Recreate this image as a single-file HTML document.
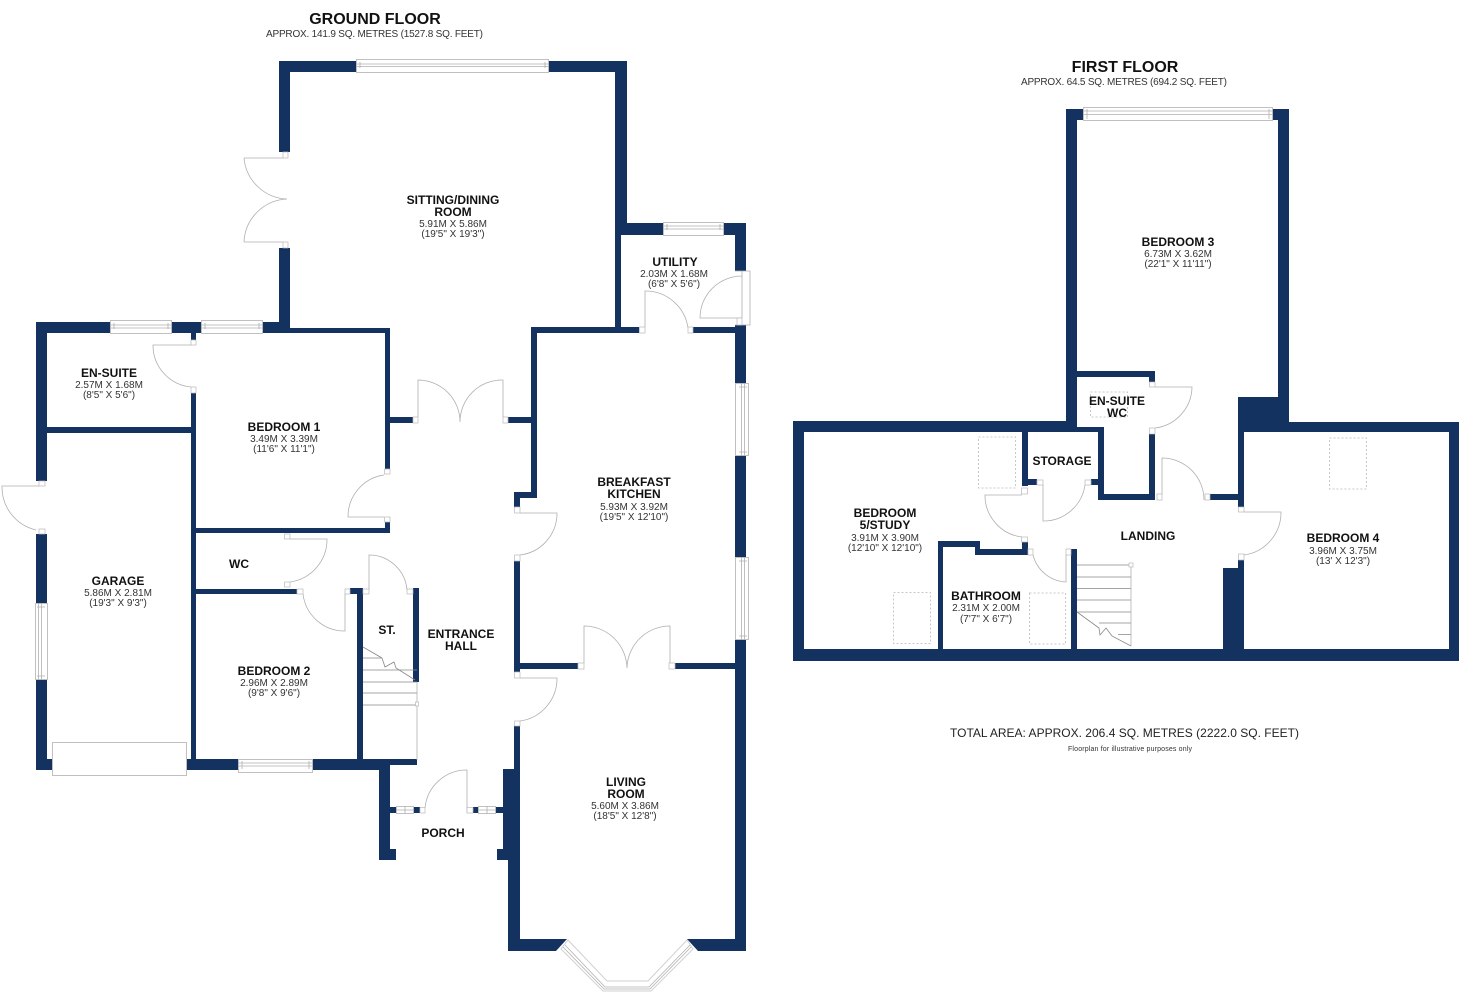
<!DOCTYPE html>
<html><head><meta charset="utf-8"><title>Floorplan</title>
<style>
html,body{margin:0;padding:0;background:#fff}
svg{display:block}
text{font-family:"Liberation Sans",sans-serif;text-anchor:middle}
.b{font-weight:bold;font-size:12px;fill:#111}
.d{font-size:10px;fill:#333}
.w{fill:#14325f}
.l{fill:none;stroke:#b0b0b0;stroke-width:.8}
.g{fill:#fff;stroke:#c0c0c0;stroke-width:1}
.s{fill:#fff;stroke:#b8b8b8;stroke-width:.7}
.k{fill:none;stroke:#c8c8c8;stroke-width:1;stroke-dasharray:2 2}
.t{fill:none;stroke:#888;stroke-width:.8}
</style></head><body>
<svg width="1473" height="999" viewBox="0 0 1473 999" xmlns="http://www.w3.org/2000/svg">
<rect width="1473" height="999" fill="#fff"/>

<!-- GROUND FLOOR walls -->
<g class="w">
<rect x="279" y="61" width="77" height="11"/><rect x="549" y="61" width="78" height="11"/>
<rect x="279" y="61" width="11" height="91"/><rect x="279" y="248" width="11" height="80"/>
<rect x="615" y="61" width="12" height="174"/>
<rect x="615" y="235" width="6" height="98"/>
<rect x="615" y="223" width="48" height="12"/><rect x="724" y="223" width="22" height="12"/>
<rect x="735" y="223" width="11" height="48"/><rect x="735" y="325" width="11" height="58"/>
<rect x="735" y="456" width="11" height="101"/><rect x="735" y="640" width="11" height="311"/>
<rect x="531" y="327" width="108" height="6"/><rect x="693" y="327" width="42" height="6"/>
<rect x="531" y="327" width="6" height="171"/><rect x="514" y="492" width="23" height="6"/>
<rect x="514" y="492" width="6" height="15"/>
<rect x="514" y="561" width="6" height="111"/><rect x="514" y="726" width="6" height="225"/>
<rect x="514" y="663" width="64" height="6"/><rect x="675" y="663" width="60" height="6"/>
<polygon points="508,939 567,939 556,951 508,951"/><polygon points="687,939 746,939 746,951 698,951"/>
<rect x="508" y="850" width="6" height="101"/>
<rect x="503" y="769" width="11" height="80"/><rect x="497" y="849" width="17" height="11"/>
<rect x="379" y="770" width="11" height="90"/><rect x="379" y="849" width="17" height="11"/>
<rect x="390" y="807" width="6" height="6"/><rect x="414" y="807" width="6" height="6"/>
<rect x="473" y="807" width="5" height="6"/><rect x="496" y="807" width="7" height="6"/>
<rect x="36" y="322" width="74" height="11"/><rect x="172" y="322" width="29" height="11"/><rect x="263" y="322" width="27" height="11"/>
<rect x="290" y="328" width="100" height="5"/>
<rect x="385" y="328" width="5" height="141"/>
<rect x="390" y="417" width="23" height="6"/><rect x="508" y="417" width="23" height="6"/>
<rect x="191" y="333" width="5" height="7"/>
<rect x="36" y="322" width="11" height="159"/><rect x="36" y="534" width="11" height="69"/><rect x="36" y="680" width="11" height="90"/>
<rect x="47" y="427" width="144" height="6"/>
<rect x="191" y="393" width="5" height="377"/>
<rect x="191" y="528" width="199" height="5"/><rect x="385" y="522" width="5" height="11"/>
<rect x="191" y="589" width="106" height="5"/>
<rect x="357" y="588" width="6" height="172"/><rect x="350" y="588" width="13" height="6"/>
<rect x="413" y="588" width="6" height="94"/>
<rect x="36" y="759" width="17" height="11"/><rect x="186" y="759" width="52" height="11"/><rect x="313" y="759" width="77" height="11"/>
<rect x="363" y="759" width="54" height="6"/>
</g>

<!-- ground windows -->
<g>
<rect class="g" x="356.500" y="59.500" width="192" height="13"/><path class="l" d="M356 64H549M356 66.500H549M360 62V68M545 62V68"/>
<rect class="g" x="663.500" y="222.500" width="60" height="13"/><path class="l" d="M663 226H724M663 229H724M667 224V230M720 224V230"/>
<rect class="g" x="110.500" y="320.500" width="61" height="13"/><path class="l" d="M110 325H172M110 328H172M114 323V329M168 323V329"/>
<rect class="g" x="201.500" y="320.500" width="61" height="13"/><path class="l" d="M201 325H263M201 328H263M205 323V329M259 323V329"/>
<rect class="g" x="735.500" y="383.500" width="13" height="72"/><path class="l" d="M741.500 383V456M744.500 383V456M739 387H747M739 452H747"/>
<rect class="g" x="735.500" y="557.500" width="13" height="82"/><path class="l" d="M741.500 557V640M744.500 557V640M739 561H747M739 636H747"/>
<rect class="g" x="35.500" y="603.500" width="12" height="76"/><path class="l" d="M38.500 603V680M41.500 603V680M37 607H45M37 676H45"/>
<rect class="g" x="52.500" y="742.500" width="134" height="33"/>
<rect class="g" x="238.500" y="759.500" width="74" height="13"/><path class="l" d="M238 763H313M238 766H313M242 761V769M309 761V769"/>
<rect class="g" x="396.500" y="806.500" width="17" height="7"/><path class="l" d="M405 806V814M396 810H414"/>
<rect class="g" x="478.500" y="806.500" width="17" height="7"/><path class="l" d="M487 806V814M478 810H496"/>
<!-- bay -->
<polygon points="561,949 603,991 651,991 693,949 687,940 648,981 607,981 568,940" fill="#fff" stroke="#d0d0d0" stroke-width="1"/>
<path class="l" d="M565 945L605 987H649L690 945M563 947L604 989H650L691 947"/>
</g>

<!-- ground doors -->
<g>
<path class="l" d="M244 158H283M244 158A45 45 0 0 0 287 199M244 242H283M244 242A45 45 0 0 1 287 199"/>
<rect class="s" x="283" y="152" width="5" height="6"/><rect class="s" x="283" y="242" width="5" height="6"/>
<path class="l" d="M418 417V380A42 42 0 0 1 460 422M503 417V380A42 42 0 0 0 460 422"/>
<rect class="s" x="413" y="417" width="5" height="6"/><rect class="s" x="503" y="417" width="5" height="6"/>
<rect class="s" x="384.500" y="469" width="5.500" height="5"/><rect class="s" x="384.500" y="517" width="5.500" height="5"/>
<path class="l" d="M384 517H348A42 42 0 0 1 384 475"/>
<rect class="s" x="514.500" y="507" width="5.500" height="6"/><rect class="s" x="514.500" y="555" width="5.500" height="6"/>
<path class="l" d="M520 513H557A42 42 0 0 1 520 555"/>
<path class="l" d="M584 663V626A43 43 0 0 1 627 668M670 663V626A43 43 0 0 0 627 668"/>
<rect class="s" x="578" y="663" width="6" height="6"/><rect class="s" x="669" y="663" width="6" height="6"/>
<rect class="s" x="514.500" y="672" width="5.500" height="6"/><rect class="s" x="514.500" y="721" width="5.500" height="5"/>
<path class="l" d="M520 678H557A43 43 0 0 1 520 721"/>
<path class="l" d="M645 327V291A43 43 0 0 1 688 328"/>
<rect class="s" x="639.500" y="327" width="5.500" height="6"/><rect class="s" x="688" y="327" width="5" height="6"/>
<path class="l" d="M735 271H750V325H735M742 271V318M742 318H700A42 42 0 0 1 742 276"/>
<rect class="s" x="737" y="318" width="5" height="7"/>
<rect class="s" x="191" y="340" width="5" height="5"/><rect class="s" x="191" y="387" width="5" height="6"/>
<path class="l" d="M191 345H153A42 42 0 0 0 191 387"/>
<rect class="s" x="39" y="481" width="6" height="5"/><rect class="s" x="39" y="529" width="6" height="5"/>
<path class="l" d="M39 486H2A44 44 0 0 0 36 530"/>
<rect class="s" x="284.500" y="534" width="5.500" height="5"/><rect class="s" x="284.500" y="582" width="5.500" height="5"/>
<path class="l" d="M290 539H327A43 43 0 0 1 290 582"/>
<rect class="s" x="297" y="589" width="6" height="5"/><rect class="s" x="345" y="589" width="5" height="5"/>
<path class="l" d="M345 594V631A42 42 0 0 1 303 594"/>
<rect class="s" x="363" y="589" width="6" height="5"/><rect class="s" x="407" y="589" width="6" height="5"/>
<path class="l" d="M369 589V555A38 38 0 0 1 407 590"/>
<path class="l" d="M467 813V770A42 42 0 0 0 425 808"/>
<rect class="s" x="420" y="807.500" width="5" height="5.500"/><rect class="s" x="467" y="807.500" width="6" height="5.500"/>
<!-- stairs -->
<path class="t" d="M363 658H382M363 670H417M363 682H417M363 693H417M363 705H417"/>
<path class="t" d="M363 647L382 658L385 667L394 662L396 668L415 680"/>
<path class="l" d="M417 682V760"/>
<rect class="s" x="415.500" y="702" width="3" height="4"/>
</g>

<!-- FIRST FLOOR walls -->
<g class="w">
<rect x="1066" y="109" width="17" height="11"/><rect x="1273" y="109" width="16" height="11"/>
<rect x="1066" y="109" width="11" height="323"/>
<rect x="1278" y="109" width="11" height="323"/>
<rect x="793" y="421" width="284" height="11"/>
<rect x="793" y="421" width="11" height="240"/>
<rect x="793" y="649" width="666" height="12"/>
<rect x="1289" y="422" width="170" height="10"/>
<rect x="1449" y="422" width="10" height="239"/>
<rect x="1238" y="397" width="51" height="35"/>
<rect x="1238" y="397" width="6" height="110"/>
<rect x="1238" y="560" width="6" height="95"/>
<rect x="1223" y="568" width="21" height="85"/>
<rect x="1210" y="494" width="28" height="6"/>
<rect x="1077" y="371" width="78" height="6"/><rect x="1149" y="371" width="6" height="11"/>
<rect x="1149" y="434" width="6" height="66"/>
<rect x="1098" y="494" width="57" height="6"/>
<rect x="1098" y="427" width="6" height="73"/>
<rect x="1077" y="427" width="27" height="5"/>
<rect x="1022" y="432" width="6" height="54"/><rect x="1022" y="479" width="15" height="6"/>
<rect x="1091" y="479" width="7" height="6"/>
<rect x="1022" y="542" width="6" height="13"/>
<rect x="975" y="549" width="53" height="6"/>
<rect x="975" y="541" width="5" height="14"/>
<rect x="938" y="541" width="42" height="6"/>
<rect x="938" y="541" width="5" height="110"/>
<rect x="1071" y="549" width="6" height="102"/>
</g>

<!-- first windows / doors -->
<g>
<rect class="g" x="1083.500" y="107.500" width="189" height="13"/><path class="l" d="M1083 111H1273M1083 114.500H1273M1087 109V119M1269 109V119"/>
<rect class="s" x="1149.500" y="382" width="5.500" height="5"/><rect class="s" x="1149.500" y="428" width="5.500" height="6"/>
<path class="l" d="M1155 387H1192A42 42 0 0 1 1155 428"/>
<rect class="s" x="1037" y="480" width="6" height="5"/><rect class="s" x="1085" y="480" width="6" height="5"/>
<path class="l" d="M1043 485V521A42 42 0 0 0 1085 485"/>
<rect class="s" x="1021.500" y="488" width="6" height="6"/><rect class="s" x="1021.500" y="537" width="6" height="5"/>
<path class="l" d="M1022 495H985A42 42 0 0 0 1022 537"/>
<rect class="s" x="1028" y="549" width="5" height="6"/><rect class="s" x="1066" y="549" width="5" height="6"/>
<path class="l" d="M1066 555V582A36 36 0 0 1 1033 555"/>
<rect class="s" x="1157" y="494" width="5" height="6"/><rect class="s" x="1205" y="494" width="5" height="6"/>
<path class="l" d="M1162 494V458A42 42 0 0 1 1204 500"/>
<rect class="s" x="1238.500" y="507" width="5.500" height="5"/><rect class="s" x="1238.500" y="554" width="5.500" height="6"/>
<path class="l" d="M1244 512H1281A43 43 0 0 1 1244 555"/>
<path class="t" d="M1077 565H1131M1077 577H1131M1077 588.500H1131M1077 600H1131M1077 612H1131M1099 623H1131M1118 634.500H1131"/>
<path class="t" d="M1077 612L1099 628L1100 635L1106 628L1112 636L1131 646"/>
<path class="l" d="M1131 565V646"/>
<rect class="s" x="1129" y="563" width="4" height="4"/>
<rect class="k" x="1090.500" y="392" width="37" height="25"/>
<rect class="k" x="978.500" y="437" width="37" height="51"/>
<rect class="k" x="893.500" y="592.500" width="37" height="51"/>
<rect class="k" x="1029.500" y="593" width="36" height="51"/>
<rect class="k" x="1329.500" y="438" width="37" height="51"/>
</g>

<!-- text -->
<text x="375" y="24" style="font-weight:bold;font-size:16px;fill:#111">GROUND FLOOR</text>
<text x="374.500" y="37" class="d" textLength="217">APPROX. 141.9 SQ. METRES (1527.8 SQ. FEET)</text>
<text x="453" y="204" class="b">SITTING/DINING</text><text x="453" y="216" class="b">ROOM</text>
<text x="453" y="227" class="d">5.91M X 5.86M</text><text x="453" y="237" class="d">(19'5" X 19'3")</text>
<text x="675" y="266" class="b">UTILITY</text><text x="674" y="277" class="d">2.03M X 1.68M</text><text x="674" y="287" class="d">(6'8" X 5'6")</text>
<text x="109" y="377" class="b">EN-SUITE</text><text x="109" y="388" class="d">2.57M X 1.68M</text><text x="109" y="398" class="d">(8'5" X 5'6")</text>
<text x="284" y="431" class="b">BEDROOM 1</text><text x="284" y="442" class="d">3.49M X 3.39M</text><text x="284" y="452" class="d">(11'6" X 11'1")</text>
<text x="634" y="486" class="b">BREAKFAST</text><text x="634" y="498" class="b">KITCHEN</text>
<text x="634" y="510" class="d">5.93M X 3.92M</text><text x="634" y="520" class="d">(19'5" X 12'10")</text>
<text x="239" y="568" class="b">WC</text>
<text x="118" y="585" class="b">GARAGE</text><text x="118" y="596" class="d">5.86M X 2.81M</text><text x="118" y="606" class="d">(19'3" X 9'3")</text>
<text x="274" y="675" class="b">BEDROOM 2</text><text x="274" y="686" class="d">2.96M X 2.89M</text><text x="274" y="696" class="d">(9'8" X 9'6")</text>
<text x="387" y="634" class="b">ST.</text>
<text x="461" y="638" class="b">ENTRANCE</text><text x="461" y="650" class="b">HALL</text>
<text x="443" y="837" class="b">PORCH</text>
<text x="626" y="786" class="b">LIVING</text><text x="626" y="798" class="b">ROOM</text>
<text x="625" y="809" class="d">5.60M X 3.86M</text><text x="625" y="819" class="d">(18'5" X 12'8")</text>

<text x="1125" y="72" style="font-weight:bold;font-size:16px;fill:#111">FIRST FLOOR</text>
<text x="1124" y="85" class="d" textLength="206">APPROX. 64.5 SQ. METRES (694.2 SQ. FEET)</text>
<text x="1178" y="246" class="b">BEDROOM 3</text><text x="1178" y="257" class="d">6.73M X 3.62M</text><text x="1178" y="267" class="d">(22'1" X 11'11")</text>
<text x="1117" y="405" class="b">EN-SUITE</text><text x="1117" y="417" class="b">WC</text>
<text x="1062" y="465" class="b">STORAGE</text>
<text x="1148" y="540" class="b">LANDING</text>
<text x="885" y="517" class="b">BEDROOM</text><text x="885" y="529" class="b">5/STUDY</text>
<text x="885" y="541" class="d">3.91M X 3.90M</text><text x="885" y="551" class="d">(12'10" X 12'10")</text>
<text x="986" y="600" class="b">BATHROOM</text><text x="986" y="611" class="d">2.31M X 2.00M</text><text x="986" y="622" class="d">(7'7" X 6'7")</text>
<text x="1343" y="542" class="b">BEDROOM 4</text><text x="1343" y="554" class="d">3.96M X 3.75M</text><text x="1343" y="564" class="d">(13' X 12'3")</text>
<text x="1124.500" y="737" style="font-size:12px;fill:#222" textLength="349">TOTAL AREA: APPROX. 206.4 SQ. METRES (2222.0 SQ. FEET)</text>
<text x="1130" y="751" style="font-size:7px;fill:#333" textLength="124">Floorplan for illustrative purposes only</text>
</svg>
</body></html>
